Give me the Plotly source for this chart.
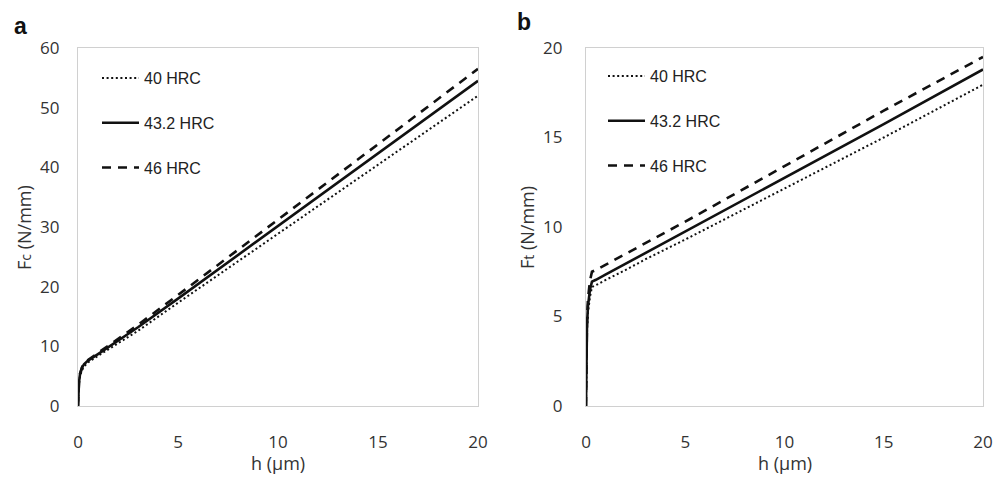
import plotly.graph_objects as go

# ---- data ----
h = [0, 0.02, 0.05, 0.1, 0.2, 0.3, 0.5, 1, 2, 3, 5, 10, 15, 20]
series_names = ["40 HRC", "43.2 HRC", "46 HRC"]

fc_40 = [0, 2.3, 3.8, 5.0, 6.0, 6.6, 7.3, 8.4, 10.5, 12.6, 17.3, 28.9, 40.5, 52.0]
fc_432 = [0, 2.5, 4.0, 5.3, 6.4, 7.0, 7.6, 8.7, 10.9, 13.2, 18.0, 30.2, 42.3, 54.5]
fc_46 = [0, 2.6, 4.1, 5.4, 6.5, 7.1, 7.7, 8.9, 11.2, 13.6, 18.6, 31.2, 43.8, 56.5]

ft_40 = [0, 2.6, 4.1, 5.2, 6.1, 6.65, 6.75, 7.05, 7.6, 8.2, 9.3, 12.15, 15.0, 17.95]
ft_432 = [0, 3.0, 4.5, 5.6, 6.5, 6.95, 7.05, 7.35, 7.95, 8.55, 9.75, 12.75, 15.75, 18.8]
ft_46 = [0, 3.2, 4.8, 6.0, 7.0, 7.5, 7.6, 7.9, 8.5, 9.1, 10.3, 13.4, 16.5, 19.5]

x_ticks = [0, 5, 10, 15, 20]
ya_ticks = [0, 10, 20, 30, 40, 50, 60]
yb_ticks = [0, 5, 10, 15, 20]

styles = [
    dict(color="#111", width=2, dash="2px,2.6px"),
    dict(color="#111", width=2.6, dash="solid"),
    dict(color="#111", width=2.6, dash="9px,7px"),
]

fig = go.Figure()
for name, ys, st in zip(series_names, [fc_40, fc_432, fc_46], styles):
    fig.add_trace(go.Scatter(x=h, y=ys, mode="lines", name=name, line=st,
                             xaxis="x", yaxis="y", legend="legend",
                             legendgroup="a" + name))
for name, ys, st in zip(series_names, [ft_40, ft_432, ft_46], styles):
    fig.add_trace(go.Scatter(x=h, y=ys, mode="lines", name=name, line=st,
                             xaxis="x2", yaxis="y2", legend="legend2",
                             legendgroup="b" + name))

W, H = 1003, 478
ydom = [(H - 406) / H, (H - 48) / H]
tickfont = dict(family="Open Sans, Liberation Sans, sans-serif", size=17, color="#333")
axis_common = dict(showgrid=False, zeroline=False, showline=True, linecolor="#d0d0d0",
                   linewidth=1.3, mirror=True, ticks="", tickfont=tickfont,
                   automargin=False)

legfont = dict(family="Liberation Sans, Arial, sans-serif", size=16, color="#222")
leg_common = dict(font=legfont, bgcolor="rgba(0,0,0,0)", tracegroupgap=21,
                  itemwidth=37, xanchor="left", yanchor="top")

fig.update_layout(
    width=W, height=H,
    margin=dict(l=0, r=0, t=0, b=0, autoexpand=False),
    paper_bgcolor="white", plot_bgcolor="white",
    xaxis=dict(domain=[78 / W, 478 / W], range=[0, 20], tickvals=x_ticks,
               anchor="y", ticklabelstandoff=20, **axis_common),
    yaxis=dict(domain=ydom, range=[0, 60], tickvals=ya_ticks, anchor="x",
               ticklabelstandoff=14, **axis_common),
    xaxis2=dict(domain=[586 / W, 983 / W], range=[0, 20], tickvals=x_ticks,
                anchor="y2", ticklabelstandoff=20, **axis_common),
    yaxis2=dict(domain=ydom, range=[0, 20], tickvals=yb_ticks, anchor="x2",
                ticklabelstandoff=19, **axis_common),
    legend=dict(x=97 / W, y=(H - 61) / H, **leg_common),
    legend2=dict(x=603 / W, y=(H - 59) / H, **leg_common),
    showlegend=True,
)

title_font = dict(family="Open Sans, Liberation Sans, sans-serif", size=18, color="#333")
annots = [
    dict(text="<b>a</b>", x=12 / W, y=(H - 26) / H, xanchor="left", yanchor="middle",
         font=dict(family="Liberation Sans, Arial, sans-serif", size=23, color="#111")),
    dict(text="<b>b</b>", x=515 / W, y=(H - 22) / H, xanchor="left", yanchor="middle",
         font=dict(family="Liberation Sans, Arial, sans-serif", size=23, color="#111")),
    dict(text="h (µm)", x=278 / W, y=(H - 463) / H, xanchor="center", yanchor="middle",
         font=title_font),
    dict(text="h (µm)", x=785 / W, y=(H - 463) / H, xanchor="center", yanchor="middle",
         font=title_font),
    dict(text="F<span style='font-size:14px'>c</span> (N/mm)", x=24 / W, y=(H - 228) / H,
         textangle=-90, xanchor="center", yanchor="middle", font=title_font),
    dict(text="F<span style='font-size:14px'>t</span> (N/mm)", x=527 / W, y=(H - 228) / H,
         textangle=-90, xanchor="center", yanchor="middle", font=title_font),
]
for a in annots:
    a.update(xref="paper", yref="paper", showarrow=False)
fig.update_layout(annotations=annots)

fig.write_html("out.html")
